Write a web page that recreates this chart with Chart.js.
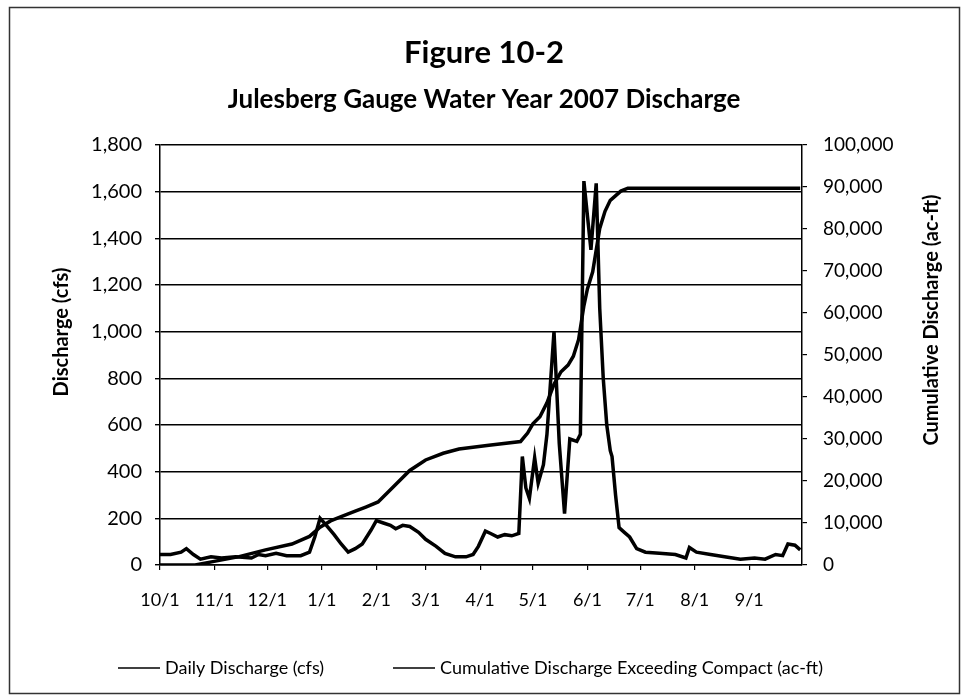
<!DOCTYPE html>
<html>
<head>
<meta charset="utf-8">
<title>Figure 10-2</title>
<script src="https://cdn.jsdelivr.net/npm/chart.js@4.4.1/dist/chart.umd.min.js"></script>
<style>
  html, body { margin: 0; padding: 0; background: #fff; }
  #wrap { width: 968px; height: 700px; }
</style>
</head>
<body>
<div id="wrap"><canvas id="chart" width="968" height="700"></canvas></div>
<script>
// --- data (day 0 = 10/1/2006) ---
const monthLabels = ['10/1', '11/1', '12/1', '1/1', '2/1', '3/1', '4/1', '5/1', '6/1', '7/1', '8/1', '9/1'];
const monthStartDay = [0, 31, 61, 92, 123, 151, 182, 212, 243, 273, 304, 335];

const leftTicks = [0, 200, 400, 600, 800, 1000, 1200, 1400, 1600, 1800];
const rightTicks = [0, 10000, 20000, 30000, 40000, 50000, 60000, 70000, 80000, 90000, 100000];

// Daily Discharge (cfs)
const dailyDay = [0, 6, 12, 15, 19, 23, 29, 35, 43, 52, 56, 60, 66, 72, 80, 85, 88, 91, 94, 99,
  103, 107, 111, 115, 120, 123, 127, 131, 134, 138, 142, 147, 151, 157, 162, 168, 174, 178, 181, 185,
  188, 192, 196, 200, 204, 206, 208, 210, 213, 215, 218, 220, 224, 227, 230, 233, 237, 239, 241, 245,
  248, 250, 252, 254, 256, 257, 259, 261, 264, 267, 271, 276, 284, 293, 299, 301, 305, 313, 321, 330, 338,
  344, 350, 354, 357, 361, 364];
const dailyCfs = [45, 45, 55, 70, 45, 25, 35, 30, 35, 30, 45, 40, 50, 40, 40, 55, 120, 200, 175, 130,
  90, 55, 70, 90, 150, 190, 180, 170, 155, 170, 165, 140, 110, 80, 50, 35, 35, 45, 80, 145,
  135, 120, 130, 125, 135, 465, 330, 285, 460, 350, 430, 560, 1000, 520, 220, 540, 530, 560, 1645, 1350,
  1635, 1100, 800, 600, 490, 465, 300, 160, 140, 120, 70, 55, 50, 45, 30, 75, 55, 45, 35, 25, 30,
  25, 45, 40, 90, 85, 65];

// Cumulative Discharge Exceeding Compact (ac-ft)
const cumDay = [0, 20, 30, 45, 60, 75, 85, 91, 97, 103, 111, 117, 124, 130, 142, 151, 161, 170, 187, 205,
  209, 212, 216, 220, 224, 228, 232, 235, 238, 241, 243, 246, 250, 253, 256, 262, 266, 364];
const cumAcft = [0, 0, 800, 2000, 3600, 5000, 6800, 9000, 10500, 11500, 12800, 13800, 15000, 17500, 22500, 25000, 26600, 27600, 28500, 29400,
  31400, 33600, 35300, 38600, 43000, 46000, 47600, 49700, 53700, 61700, 65700, 69800, 80100, 84200, 86800, 89000, 89700, 89700];

const FONT = 'Lato, "Open Sans", sans-serif';

// frame, axis titles and legend
const extras = {
  id: 'extras',
  afterDraw(chart) {
    const ctx = chart.ctx;
    ctx.save();
    ctx.strokeStyle = '#333';
    ctx.lineWidth = 1.5;
    ctx.strokeRect(9.5, 7.5, 950, 686);

    ctx.fillStyle = '#000';
    ctx.font = 'bold 20px ' + FONT;
    ctx.textAlign = 'center';
    ctx.textBaseline = 'middle';
    ctx.save();
    ctx.translate(62, 332);
    ctx.rotate(-Math.PI / 2);
    ctx.fillText('Discharge (cfs)', 0, 0);
    ctx.restore();
    ctx.save();
    ctx.translate(932, 320);
    ctx.rotate(-Math.PI / 2);
    ctx.fillText('Cumulative Discharge (ac-ft)', 0, 0);
    ctx.restore();

    // legend
    const starts = [118, 393];
    ctx.font = '18px ' + FONT;
    ctx.textAlign = 'left';
    chart.data.datasets.forEach((ds, i) => {
      const x = starts[i], y = 668;
      ctx.strokeStyle = '#000';
      ctx.lineWidth = 1.5;
      ctx.beginPath();
      ctx.moveTo(x, y);
      ctx.lineTo(x + 42, y);
      ctx.stroke();
      ctx.fillText(ds.label, x + 47, y);
    });
    ctx.restore();
  }
};

const toPoints = (xs, ys) => xs.map((d, i) => ({ x: d, y: ys[i] }));

new Chart(document.getElementById('chart'), {
  type: 'line',
  data: {
    datasets: [
      {
        label: 'Daily Discharge (cfs)',
        data: toPoints(dailyDay, dailyCfs),
        yAxisID: 'y',
        borderColor: '#000',
        borderWidth: 3.5,
        pointRadius: 0,
        tension: 0
      },
      {
        label: 'Cumulative Discharge Exceeding Compact (ac-ft)',
        data: toPoints(cumDay, cumAcft),
        yAxisID: 'y1',
        borderColor: '#000',
        borderWidth: 3.5,
        pointRadius: 0,
        tension: 0
      }
    ]
  },
  options: {
    responsive: false,
    animation: false,
    layout: { padding: { left: 0, right: 0, top: 0, bottom: 89 } },
    plugins: {
      legend: { display: false },
      tooltip: { enabled: false },
      title: {
        display: true,
        text: 'Figure 10-2',
        color: '#000',
        font: { family: FONT, size: 31, weight: 'bold' },
        padding: { top: 34, bottom: 10 }
      },
      subtitle: {
        display: true,
        text: 'Julesberg Gauge Water Year 2007 Discharge',
        color: '#000',
        font: { family: FONT, size: 26, weight: 'bold' },
        padding: { top: 3, bottom: 29.5 }
      }
    },
    scales: {
      x: {
        type: 'linear',
        min: 0,
        max: 365,
        afterBuildTicks: (scale) => { scale.ticks = monthStartDay.map(v => ({ value: v })); },
        afterFit: (scale) => { scale.height = 46; },
        ticks: {
          autoSkip: false,
          maxRotation: 0,
          color: '#000',
          font: { family: FONT, size: 18 },
          padding: 19,
          callback: (v) => monthLabels[monthStartDay.indexOf(v)]
        },
        grid: { drawOnChartArea: false, drawTicks: true, tickLength: 5, color: '#000', lineWidth: 1.2 },
        border: { display: true, color: '#000', width: 1.5 }
      },
      y: {
        position: 'left',
        min: 0,
        max: 1800,
        afterBuildTicks: (scale) => { scale.ticks = leftTicks.map(v => ({ value: v })); },
        afterFit: (scale) => { scale.width = 160; },
        ticks: {
          color: '#000',
          font: { family: FONT, size: 20 },
          padding: 13,
          callback: (v) => v.toLocaleString('en-US')
        },
        grid: { color: '#000', lineWidth: 1.4, tickLength: 5 },
        border: { display: true, color: '#000', width: 1.5 }
      },
      y1: {
        position: 'right',
        min: 0,
        max: 100000,
        afterBuildTicks: (scale) => { scale.ticks = rightTicks.map(v => ({ value: v })); },
        afterFit: (scale) => { scale.width = 166; },
        ticks: {
          color: '#000',
          font: { family: FONT, size: 19 },
          padding: 16,
          callback: (v) => v.toLocaleString('en-US')
        },
        grid: { drawOnChartArea: false, tickLength: 5, color: '#000', lineWidth: 1.2 },
        border: { display: true, color: '#000', width: 1.5 }
      }
    }
  },
  plugins: [extras]
});
</script>
</body>
</html>
